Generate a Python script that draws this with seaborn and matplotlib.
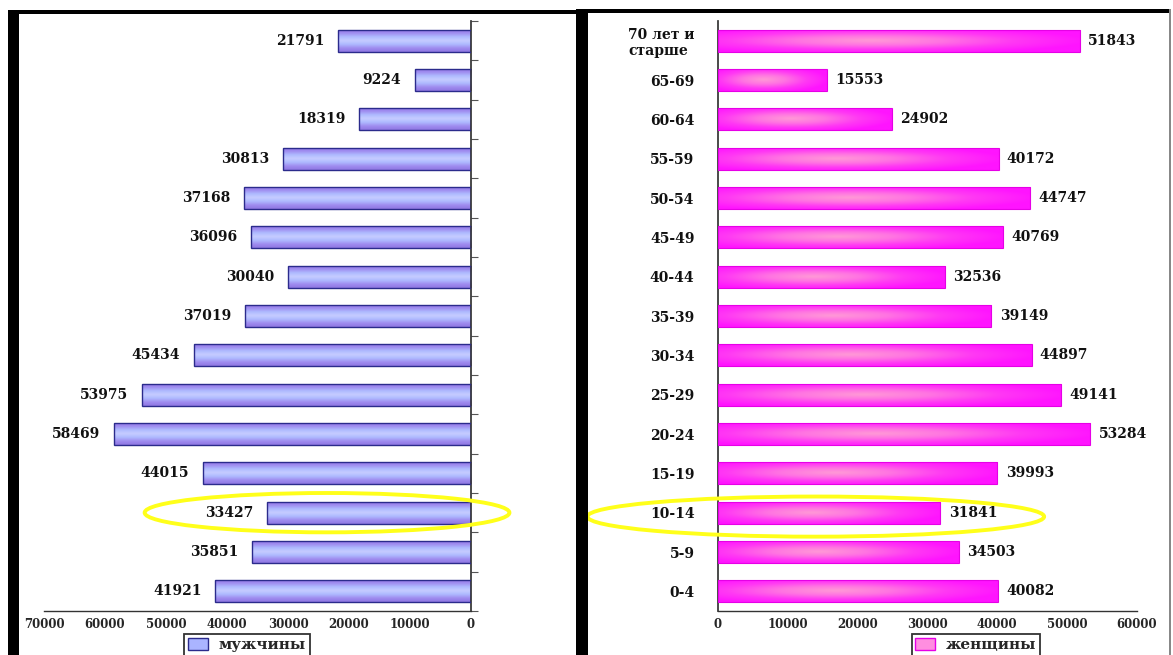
import numpy as np
import pandas as pd
import matplotlib
matplotlib.use("Agg")
import matplotlib.pyplot as plt
import seaborn as sns
from matplotlib.patches import Rectangle, Ellipse, Patch
from matplotlib.colors import LinearSegmentedColormap

# ---------------- data ----------------
categories = ["70 лет и\nстарше", "65-69", "60-64", "55-59", "50-54", "45-49",
              "40-44", "35-39", "30-34", "25-29", "20-24", "15-19", "10-14",
              "5-9", "0-4"]
men = [21791, 9224, 18319, 30813, 37168, 36096, 30040, 37019, 45434,
       53975, 58469, 44015, 33427, 35851, 41921]
women = [51843, 15553, 24902, 40172, 44747, 40769, 32536, 39149, 44897,
         49141, 53284, 39993, 31841, 34503, 40082]
men_label = "мужчины"
women_label = "женщины"
men_ticks = [70000, 60000, 50000, 40000, 30000, 20000, 10000, 0]
women_ticks = [0, 10000, 20000, 30000, 40000, 50000, 60000]
highlight = "10-14"

df = pd.DataFrame({"age": categories, "men": men, "women": women})

sns.set_theme(style="white")
plt.rcParams["font.family"] = ["DejaVu Serif"]
plt.rcParams["font.weight"] = "bold"

W, H = 1173, 655
fig = plt.figure(figsize=(W / 100, H / 100), dpi=100)
fig.patch.set_facecolor("white")


def rect(x0, x1, ytop, ybot):
    return [x0 / W, 1 - ybot / H, (x1 - x0) / W, (ybot - ytop) / H]


axL = fig.add_axes(rect(44, 471, 21, 611))
axR = fig.add_axes(rect(718, 1137, 21, 611))

sns.barplot(data=df, x="men", y="age", order=categories, orient="h",
            color="#aab4ff", width=0.56, ax=axL, edgecolor="#2b2b8c",
            linewidth=1.0)
sns.barplot(data=df, x="women", y="age", order=categories, orient="h",
            color="#ff44ee", width=0.56, ax=axR, edgecolor="#e600e6",
            linewidth=0.8)

cmapL = LinearSegmentedColormap.from_list(
    "m", ["#c6ccff", "#aebaff", "#a08cf0", "#8f78e2"])
cmapR = LinearSegmentedColormap.from_list(
    "w", ["#ff9ad6", "#ff74e2", "#ff38f4", "#ff14ff"])

# vertical gradient for men bars
yy = np.linspace(-1, 1, 40)[:, None]
gradL = np.repeat(np.abs(yy), 10, axis=1)
# radial gradient for women bars
Xg, Yg = np.meshgrid(np.linspace(0, 1, 120), np.linspace(0, 1, 40))
gradR = np.clip(np.sqrt(((Xg - 0.42) / 0.6) ** 2 + ((Yg - 0.5) / 0.6) ** 2), 0, 1)


def shade(ax, grad, cmap):
    for p in list(ax.patches):
        x0, y0 = p.get_x(), p.get_y()
        x1, y1 = x0 + p.get_width(), y0 + p.get_height()
        im = ax.imshow(grad, extent=[x0, x1, y1, y0], aspect="auto",
                       cmap=cmap, vmin=0, vmax=1, interpolation="bicubic",
                       zorder=2.4)
        im.set_clip_path(p)
        p.set_facecolor("none")
        p.set_zorder(2.6)


shade(axL, gradL, cmapL)
shade(axR, gradR, cmapR)

n = len(categories)
for ax in (axL, axR):
    ax.set_ylim(n - 0.5, -0.5)
    ax.set_xlabel("")
    ax.set_ylabel("")
    ax.set_yticks(np.arange(-0.5, n, 1.0), minor=True)
    ax.tick_params(axis="y", which="major", length=0)
    ax.tick_params(axis="y", which="minor", length=5, width=0.8,
                   color="#555555", direction="out")
    ax.tick_params(axis="x", which="major", length=4, width=0.8,
                   color="#333333", direction="inout", labelsize=8.5, pad=3)
    ax.spines["top"].set_visible(False)
    ax.spines["bottom"].set_color("#333333")
    ax.spines["bottom"].set_linewidth(1.0)

# left panel
axL.set_xlim(70000, 0)
axL.set_xticks(men_ticks)
axL.set_xticklabels([str(t) for t in men_ticks], fontweight="bold",
                    fontsize=8.5)
axL.yaxis.tick_right()
axL.set_yticklabels([])
axL.spines["left"].set_visible(False)
axL.spines["right"].set_color("#333333")
axL.tick_params(axis="y", which="minor", right=True, left=False)
for i, v in enumerate(men):
    axL.annotate(str(v), (v, i), xytext=(-10, 0), textcoords="offset points",
                 ha="right", va="center", fontsize=10, fontweight="bold",
                 color="#111111")

# right panel
axR.set_xlim(0, 60000)
axR.set_xticks(women_ticks)
axR.set_xticklabels([str(t) for t in women_ticks], fontweight="bold",
                    fontsize=8.5)
axR.spines["right"].set_visible(False)
axR.spines["left"].set_color("#333333")
axR.set_yticks(range(n))
axR.set_yticklabels(categories, fontsize=10, fontweight="bold",
                    color="#111111")
for lab in axR.get_yticklabels():
    lab.set_multialignment("left")
axR.tick_params(axis="y", which="major", pad=17)
for i, v in enumerate(women):
    axR.annotate(str(v), (v, i), xytext=(6, 0), textcoords="offset points",
                 ha="left", va="center", fontsize=10, fontweight="bold",
                 color="#111111")

# hand-drawn style highlight of the 10-14 group
hi = categories.index(highlight)
axL.add_patch(Ellipse((23600, hi), 59800, 1.0, fill=False,
                      edgecolor="#ffff1a", linewidth=2.8, clip_on=False,
                      zorder=5))
axR.add_patch(Ellipse((14000, hi + 0.1), 65400, 1.02, fill=False,
                      edgecolor="#ffff1a", linewidth=2.8, clip_on=False,
                      zorder=5))

# legends
leg_kw = dict(loc="upper center", frameon=True, fancybox=False,
              edgecolor="black",
              prop={"family": "DejaVu Serif", "weight": "bold", "size": 11},
              handlelength=1.3, handleheight=0.8, borderpad=0.25,
              handletextpad=0.7, borderaxespad=0.0)
legL = fig.legend(handles=[Patch(facecolor="#aab4ff", edgecolor="#2b2b8c",
                                 label=men_label)],
                  bbox_to_anchor=(247 / W, 1 - 634 / H), **leg_kw)
legL.get_frame().set_linewidth(1.3)
legR = fig.legend(handles=[Patch(facecolor="#ff8ee0", edgecolor="#e600e6",
                                 label=women_label)],
                  bbox_to_anchor=(976 / W, 1 - 634 / H), **leg_kw)
legR.get_frame().set_linewidth(1.3)


# black frame strips of the original slide
def frame(x0, x1, ytop, ybot, color="black"):
    fig.add_artist(Rectangle((x0 / W, 1 - ybot / H), (x1 - x0) / W,
                             (ybot - ytop) / H, transform=fig.transFigure,
                             facecolor=color, edgecolor="none", zorder=10))


frame(8, 19, 10, H)
frame(8, 577, 10, 14)
frame(576, 588, 9, H)
frame(576, 1170, 9, 13)
frame(1169, 1171, 9, H, color="#888888")

fig.savefig("out.png", dpi=100, facecolor="white")
